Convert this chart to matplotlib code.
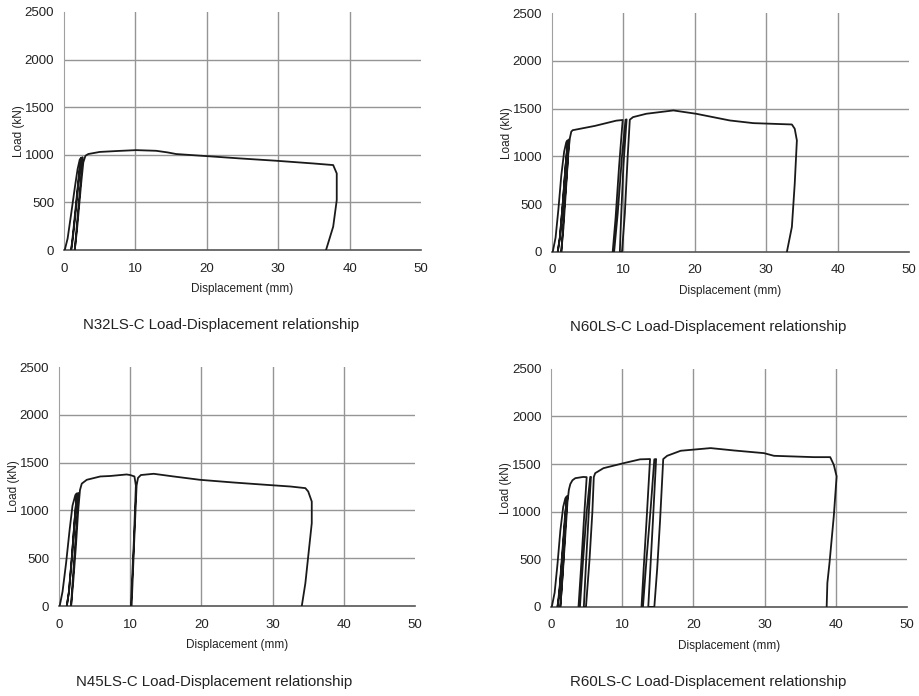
import matplotlib
matplotlib.use('Agg')
import matplotlib.pyplot as plt

plt.rcParams['font.family'] = ['Liberation Sans', 'DejaVu Sans']

# N32LS-C
n32_x = [0.1, 0.5, 1.0, 1.5, 1.9, 2.2, 2.4,
         2.1, 1.7, 1.3, 1.0,
         1.2, 1.6, 2.0, 2.3, 2.5, 2.6,
         2.3, 1.9, 1.6, 1.5,
         1.8, 2.1, 2.4, 2.7, 3.0, 3.4, 5.0, 7.5, 10.1, 12.9, 14.5, 15.7,
         20.0, 24.6, 29.8, 34.9, 37.7, 38.2, 38.2, 37.7, 36.7]
n32_y = [0, 120, 380, 650, 850, 950, 970,
         800, 500, 200, 0,
         100, 380, 700, 900, 965, 975,
         700, 350, 80, 0,
         200, 450, 700, 920, 990, 1008, 1030, 1040, 1049, 1042, 1025, 1008,
         986, 962, 937, 909, 892, 804, 524, 245, 0]

# N60LS-C
n60_x = [0.1, 0.5, 0.9, 1.3, 1.7, 2.0, 2.2,
         1.9, 1.5, 1.1, 0.8,
         1.1, 1.5, 1.9, 2.2, 2.4,
         2.1, 1.7, 1.4, 1.3,
         1.6, 2.0, 2.3, 2.5, 2.7, 2.9, 6.0, 9.0, 9.9,
         9.4, 8.9, 8.5, 8.7, 9.2, 9.8, 10.3, 10.45,
         10.0, 9.7, 9.5, 9.8, 10.2, 10.6, 10.9, 11.35, 13.2, 17.0, 20.2,
         24.9, 28.2, 33.6, 34.0, 34.3, 34.0, 33.6, 32.9]
n60_y = [0, 150, 450, 800, 1050, 1150, 1170,
         900, 500, 150, 0,
         150, 500, 900, 1130, 1180,
         850, 450, 100, 0,
         250, 700, 1050, 1190, 1260, 1275, 1320, 1375, 1382,
         900, 350, 0, 0, 400, 1000, 1385, 1388,
         900, 400, 0, 0, 400, 1000, 1385, 1412, 1447, 1482, 1447,
         1377, 1349, 1335, 1290, 1168, 715, 262, 0]

# N45LS-C
n45_x = [0.1, 0.5, 1.0, 1.5, 1.9, 2.3, 2.5,
         2.2, 1.8, 1.4, 1.1,
         1.4, 1.8, 2.2, 2.5, 2.7,
         2.5, 2.1, 1.8, 1.7,
         2.0, 2.4, 2.7, 2.95, 3.2, 3.9, 5.8, 7.2, 9.5, 10.0, 10.6,
         10.8, 10.5, 10.1, 10.2, 10.55, 10.9, 11.1, 11.5, 13.3, 16.1, 19.8,
         24.5, 29.2, 32.5, 34.6, 35.0, 35.5, 35.5, 35.0, 34.6, 34.1]
n45_y = [0, 150, 450, 800, 1050, 1160, 1178,
         900, 500, 150, 0,
         150, 500, 900, 1150, 1182,
         900, 450, 120, 0,
         250, 650, 1000, 1213, 1280, 1320, 1355, 1360, 1376, 1370, 1355,
         1260, 650, 0, 0, 650, 1260, 1340, 1370, 1383, 1355, 1320,
         1292, 1267, 1250, 1233, 1198, 1093, 866, 517, 237, 0]

# R60LS-C
r60_x = [0.1, 0.5, 0.9, 1.3, 1.7, 2.0, 2.2,
         1.9, 1.5, 1.1, 0.9,
         1.2, 1.6, 2.0, 2.3,
         2.0, 1.7, 1.4, 1.3,
         1.6, 2.0, 2.3, 2.5, 2.7, 3.0, 3.4, 4.5, 5.0,
         4.6, 4.2, 3.85, 4.05, 4.5, 5.0, 5.5, 5.6,
         5.3, 4.9, 4.6, 4.9, 5.4, 5.8, 6.0, 6.2, 7.35, 10.2, 12.5, 13.9,
         13.4, 13.0, 12.7, 12.9, 13.4, 14.0, 14.5, 14.75,
         14.3, 13.9, 13.65, 14.5, 14.9, 15.3, 15.75, 16.3, 18.2, 22.4,
         25.7, 29.9, 31.3, 36.9, 39.2, 39.7, 40.1, 39.7, 39.1, 38.8, 38.7]
r60_y = [0, 150, 450, 800, 1050, 1140, 1160,
         850, 450, 100, 0,
         200, 600, 1000, 1165,
         850, 450, 100, 0,
         300, 750, 1100, 1230, 1290, 1330, 1352, 1365, 1363,
         900, 400, 0, 0, 500, 1000, 1365, 1366,
         1000, 450, 0, 0, 500, 1000, 1365, 1405, 1457, 1510, 1550, 1553,
         900, 400, 0, 0, 500, 1050, 1550, 1553,
         900, 350, 0, 0, 400, 900, 1553, 1587, 1640, 1668,
         1643, 1615, 1587, 1573, 1573, 1493, 1371, 951, 462, 252, 0]

titles = ['N32LS-C Load-Displacement relationship',
          'N60LS-C Load-Displacement relationship',
          'N45LS-C Load-Displacement relationship',
          'R60LS-C Load-Displacement relationship']
x_ticks = [0, 10, 20, 30, 40, 50]
y_ticks = [0, 500, 1000, 1500, 2000, 2500]

curves = [(n32_x, n32_y), (n60_x, n60_y), (n45_x, n45_y), (r60_x, r60_y)]
boxes = [[0.0696, 0.6408, 0.388, 0.342],
         [0.600, 0.638, 0.388, 0.343],
         [0.0641, 0.1293, 0.387, 0.3434],
         [0.599, 0.128, 0.387, 0.342]]
caption_pos = [(0.240, 0.533), (0.770, 0.530), (0.233, 0.020), (0.770, 0.020)]

fig = plt.figure(figsize=(9.2, 6.96), dpi=100)

for (xs, ys), box, title, cp in zip(curves, boxes, titles, caption_pos):
    ax = fig.add_axes(box)
    ax.set_xlim(0, 50)
    ax.set_ylim(0, 2500)
    for v in y_ticks[1:-1]:
        ax.axhline(v, color='#959595', lw=1.0, zorder=1)
    for v in x_ticks[1:-1]:
        ax.axvline(v, color='#959595', lw=1.0, zorder=1)
    ax.plot(xs, ys, color='#1a1a1a', lw=1.3, zorder=3, solid_joinstyle='round')
    ax.set_xticks(x_ticks)
    ax.set_yticks(y_ticks)
    ax.tick_params(length=0, labelsize=9.5, colors='#222222')
    ax.tick_params(axis='x', pad=9)
    ax.tick_params(axis='y', pad=7)
    for s in ['top', 'right']:
        ax.spines[s].set_visible(False)
    ax.spines['left'].set_color('#a0a0a0')
    ax.spines['bottom'].set_color('#555555')
    ax.spines['bottom'].set_linewidth(1.2)
    ax.set_xlabel('Displacement (mm)', fontsize=8.5, color='#222222', labelpad=6)
    ax.set_ylabel('Load (kN)', fontsize=8.5, color='#222222', labelpad=0)
    fig.text(cp[0], cp[1], title, ha='center', va='center', fontsize=10.8, color='#222222')

fig.savefig('out.png', dpi=100)
